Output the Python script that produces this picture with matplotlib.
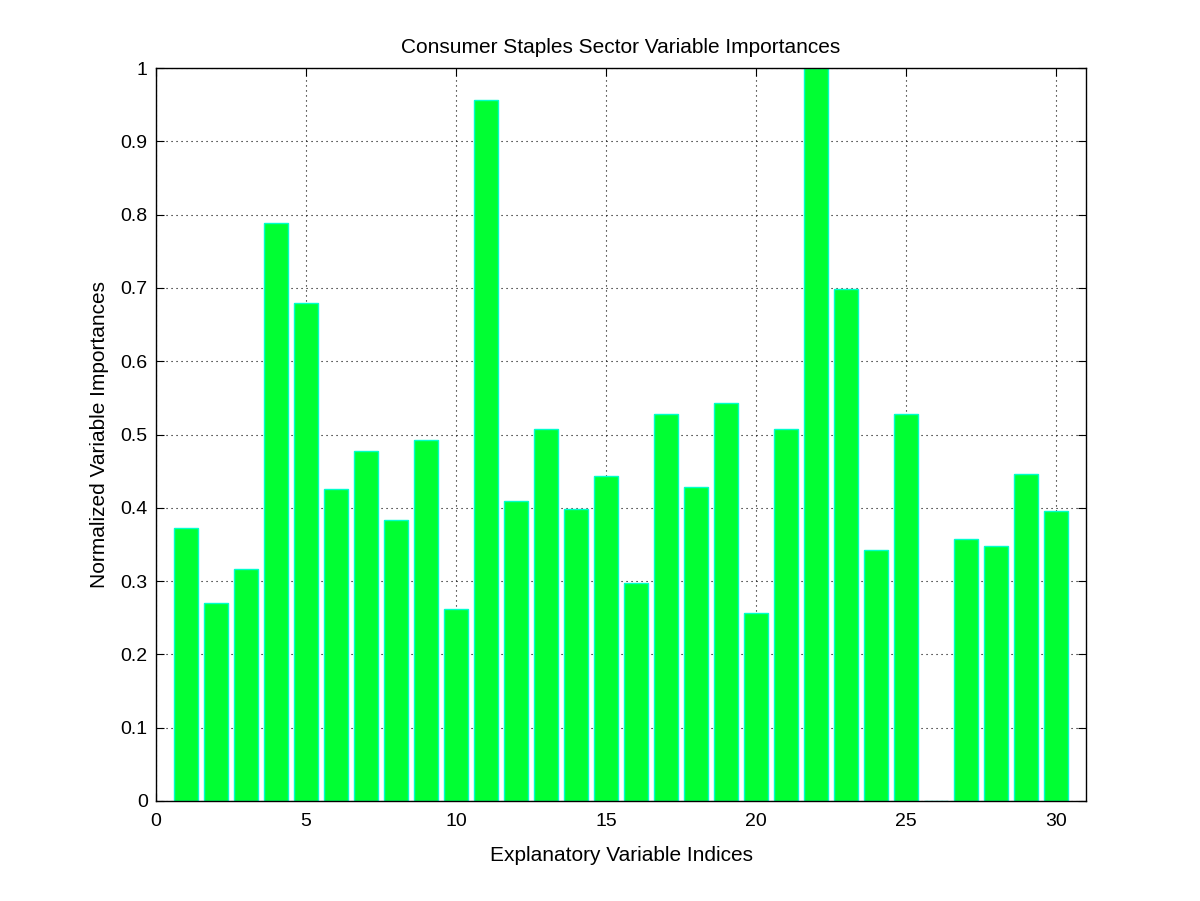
import numpy as np
import matplotlib
matplotlib.use("Agg")
import matplotlib.pyplot as plt

indices = np.arange(1, 31)
importances = [
    0.372, 0.270, 0.316, 0.789, 0.679, 0.425, 0.478, 0.383, 0.492, 0.262,
    0.957, 0.409, 0.507, 0.399, 0.444, 0.297, 0.528, 0.428, 0.543, 0.257,
    0.507, 1.000, 0.699, 0.342, 0.528, 0.0, 0.357, 0.348, 0.446, 0.395,
]
ytick_labels = ["0", "0.1", "0.2", "0.3", "0.4", "0.5", "0.6", "0.7", "0.8", "0.9", "1"]

plt.rcParams["font.family"] = ["Liberation Sans", "DejaVu Sans"]

fig = plt.figure(figsize=(12, 9.01), dpi=100)
ax = fig.add_axes([0.13, 0.111, 0.775, 0.8135])

ax.bar(indices, importances, width=0.8, color="#00ff33", edgecolor="#00ffcc", linewidth=1)

ax.set_xlim(0, 31)
ax.set_ylim(0, 1)
ax.set_xticks(np.arange(0, 31, 5))
ax.set_yticks(np.linspace(0, 1, 11))
ax.set_yticklabels(ytick_labels)
ax.set_axisbelow(True)
ax.grid(True, linestyle=(0, (1, 3.5)), color="black", linewidth=0.8)
ax.tick_params(direction="in", length=6, top=True, right=True, labelsize=14)
ax.tick_params(axis="x", pad=9)
ax.tick_params(axis="y", pad=6)
for s in ax.spines.values():
    s.set_linewidth(1)

ax.set_title("Consumer Staples Sector Variable Importances", fontsize=15, pad=11)
ax.set_xlabel("Explanatory Variable Indices", fontsize=15, labelpad=11)
ax.set_ylabel("Normalized Variable Importances", fontsize=15, labelpad=8)

fig.savefig("out.png", dpi=100)
